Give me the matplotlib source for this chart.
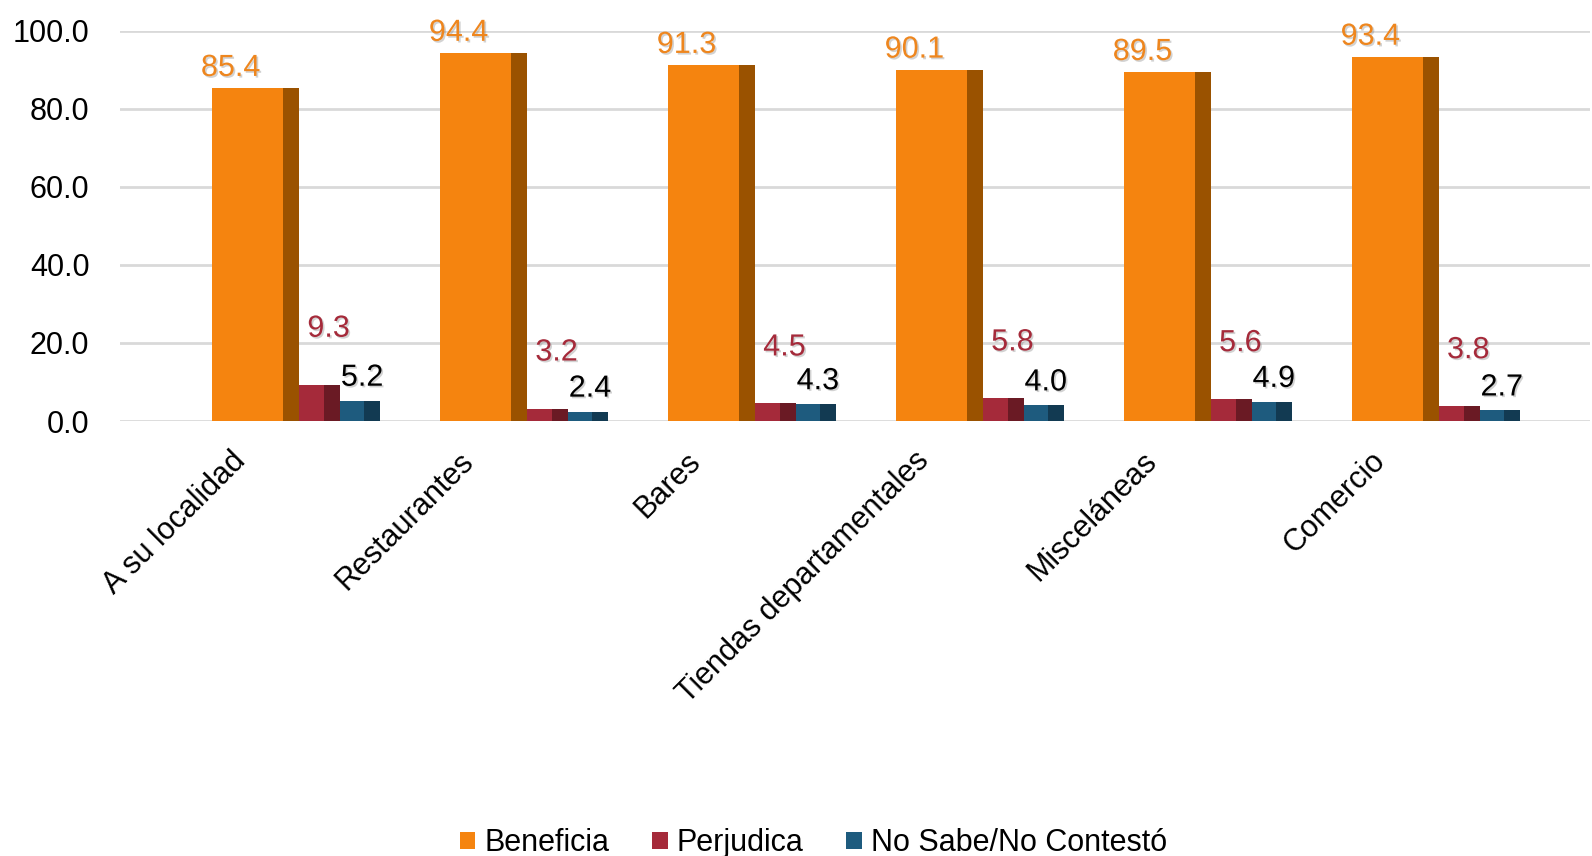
import numpy as np
import matplotlib
matplotlib.use("Agg")
import matplotlib.pyplot as plt
import matplotlib.patheffects as pe
from matplotlib.transforms import ScaledTranslation

plt.rcParams['font.family'] = ['Liberation Sans', 'DejaVu Sans']

categories = ['A su localidad', 'Restaurantes', 'Bares', 'Tiendas departamentales',
              'Misceláneas', 'Comercio']
beneficia = [85.4, 94.4, 91.3, 90.1, 89.5, 93.4]
perjudica = [9.3, 3.2, 4.5, 5.8, 5.6, 3.8]
no_sabe = [5.2, 2.4, 4.3, 4.0, 4.9, 2.7]
series_names = ['Beneficia', 'Perjudica', 'No Sabe/No Contestó']

# front colour, side colour, label colour
front = ['#F5840F', '#A52A3A', '#1E5B7E']
side = ['#9A5200', '#6A1A24', '#123A52']
label_col = ['#EE861E', '#A52A3A', '#000000']

# bar geometry (in category units): start offset, front width
starts = [-0.145, 0.236, 0.416]
widths = [0.311, 0.110, 0.105]
side_w = 0.070
# label offsets in pixels (dx from front centre, dy above bar top)
lab_off = [(-17, 12), (17, 48), (10, 15)]

fig = plt.figure(figsize=(15.92, 8.56), dpi=100)
ax = fig.add_axes([120 / 1592, 1 - 421 / 856, 1470 / 1592, 390 / 856])

x = np.arange(len(categories))
shadow = [pe.SimplePatchShadow(offset=(1.2, -1.2), shadow_rgbFace='#808080', alpha=0.35), pe.Normal()]

for k, vals in enumerate([beneficia, perjudica, no_sabe]):
    ax.bar(x + starts[k], vals, width=widths[k], align='edge', color=front[k],
           label=series_names[k], zorder=3)
    ax.bar(x + starts[k] + widths[k], vals, width=side_w, align='edge', color=side[k], zorder=3)
    for xi, v in zip(x, vals):
        ax.annotate('%.1f' % v, (xi + starts[k] + widths[k] / 2, v),
                    xytext=lab_off[k], textcoords='offset pixels',
                    ha='center', va='baseline', fontsize=22, color=label_col[k],
                    annotation_clip=False, path_effects=shadow, zorder=5)

ax.set_xlim(-0.549, 5.9)
ax.set_ylim(0, 100)
ax.set_yticks(np.arange(0, 101, 20))
ax.set_yticklabels(['%.1f' % t for t in np.arange(0, 101, 20)])
ax.set_xticks(x)
ax.set_xticklabels(categories, rotation=45, ha='right', va='top', rotation_mode='anchor')
ax.tick_params(axis='both', length=0, labelsize=22, colors='#000000')
ax.tick_params(axis='y', pad=22)
ax.tick_params(axis='x', pad=18)
shift = ScaledTranslation(-15 / 100, 0, fig.dpi_scale_trans)
for lbl in ax.get_xticklabels():
    lbl.set_transform(lbl.get_transform() + shift)
ax.grid(axis='y', color='#D9D9D9', linewidth=2, zorder=0)
ax.set_axisbelow(True)
for s in ax.spines.values():
    s.set_visible(False)

fig.legend(loc='center', bbox_to_anchor=(0.511, 0.015), ncol=3, frameon=False,
           fontsize=22, handlelength=0.5, handleheight=0.5, handletextpad=0.3,
           columnspacing=1.4)

fig.savefig('out.png', dpi=100)
